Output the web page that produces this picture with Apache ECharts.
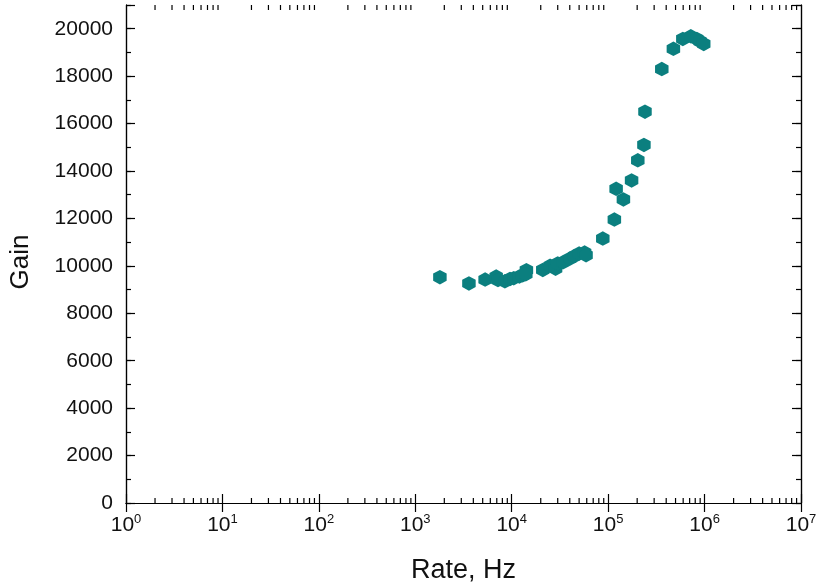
<!DOCTYPE html>
<html>
<head>
<meta charset="utf-8">
<script src="https://cdn.jsdelivr.net/npm/echarts@6/dist/echarts.min.js"></script>
<style>
  html, body { margin: 0; padding: 0; background: #fff; }
  #chart { width: 836px; height: 584px; }
</style>
</head>
<body>
<div id="chart"></div>
<script>
// ---- data ----
const rateHz = [
  1800, 3600, 5300, 6900, 7200, 8500, 9600, 10500, 12000, 13000,
  14200, 14000, 21000, 25000, 28500, 30000, 34000, 40000, 45000, 50000,
  57000, 59000, 88000, 116000, 121000, 144000, 175000, 203000, 235000, 241000,
  360000, 475000, 595000, 720000, 830000, 900000, 980000
];
const gain = [
  9520, 9260, 9420, 9550, 9400, 9350, 9450, 9480, 9550, 9600,
  9820, 9650, 9830, 10000, 9880, 10100, 10150, 10300, 10420, 10520,
  10560, 10450, 11150, 11950, 13250, 12800, 13600, 14450, 15100, 16500,
  18300, 19150, 19570, 19680, 19570, 19470, 19360
];
const xMin = 1, xMax = 1e7;
const yMin = 0, yMax = 21000;
const yLabelStep = 2000, yMinorStep = 1000;
const minorFactors = [2, 3, 4, 5, 6, 7, 8, 9];
const decades = [1, 10, 100, 1000, 10000, 100000, 1000000];

const points = rateHz.map((r, i) => [r, gain[i]]);
const minorTickData = [];
decades.forEach(d => minorFactors.forEach(f => minorTickData.push([d * f, yMin])));

const FONT = 'Liberation Sans, Arial, sans-serif';
const black = '#000';
const hexagon = 'path://M0,-1 L0.866,-0.5 L0.866,0.5 L0,1 L-0.866,0.5 L-0.866,-0.5 Z';

const chart = echarts.init(document.getElementById('chart'), null, { renderer: 'canvas' });

const baseX = {
  type: 'log', logBase: 10, min: xMin, max: xMax, interval: 1, splitNumber: 7,
  axisLine: { show: true, lineStyle: { color: black, width: 1.2 } },
  axisTick: { show: true, inside: true, length: 9, lineStyle: { color: black, width: 1.2 } },
  splitLine: { show: false }, minorTick: { show: false }, minorSplitLine: { show: false }
};
const baseY = {
  type: 'value', min: yMin, max: yMax,
  axisLine: { show: true, lineStyle: { color: black, width: 1.2 } },
  splitLine: { show: false }
};

chart.setOption({
  animation: false,
  backgroundColor: '#fff',
  grid: { left: 126, right: 35, top: 5, bottom: 81, containLabel: false, outerBoundsMode: 'none' },
  xAxis: [
    Object.assign({}, baseX, {
      position: 'bottom',
      name: 'Rate, Hz', nameLocation: 'middle', nameGap: 54,
      nameTextStyle: { fontFamily: FONT, fontSize: 27, color: '#111' },
      axisLabel: {
        show: true, margin: 10, color: '#111', fontFamily: FONT, fontSize: 21,
        formatter: v => '10{sup|' + Math.round(Math.log10(v)) + '}',
        rich: { sup: { fontFamily: FONT, fontSize: 13, color: '#111', padding: [0, 0, 11, 0] } }
      }
    }),
    Object.assign({}, baseX, { position: 'top', axisLabel: { show: false } })
  ],
  yAxis: [
    Object.assign({}, baseY, {
      position: 'left', interval: yMinorStep,
      name: 'Gain', nameLocation: 'middle', nameGap: 92,
      nameTextStyle: { fontFamily: FONT, fontSize: 26, color: '#111', padding: [0, 16, 0, 0] },
      axisTick: { show: true, inside: true, length: 5, lineStyle: { color: black, width: 1.2 } },
      axisLabel: {
        show: true, margin: 13, color: '#111', fontFamily: FONT, fontSize: 21,
        formatter: v => (v % yLabelStep === 0 && v <= 20000) ? String(v) : ''
      }
    }),
    Object.assign({}, baseY, {
      position: 'right', interval: yMinorStep,
      axisTick: { show: true, inside: true, length: 5, lineStyle: { color: black, width: 1.2 } },
      axisLabel: { show: false }
    }),
    Object.assign({}, baseY, {
      position: 'left', interval: yLabelStep,
      axisTick: { show: true, inside: true, length: 9, lineStyle: { color: black, width: 1.2 } },
      axisLabel: { show: false }
    }),
    Object.assign({}, baseY, {
      position: 'right', interval: yLabelStep,
      axisTick: { show: true, inside: true, length: 9, lineStyle: { color: black, width: 1.2 } },
      axisLabel: { show: false }
    })
  ],
  series: [
    {
      type: 'custom', xAxisIndex: 0, yAxisIndex: 0, silent: true, clip: false,
      data: minorTickData,
      renderItem: (params, api) => {
        const x = api.value(0);
        const b = api.coord([x, yMin]);
        const t = api.coord([x, yMax]);
        return {
          type: 'group',
          children: [
            { type: 'line', shape: { x1: b[0], y1: b[1], x2: b[0], y2: b[1] - 5 }, style: { stroke: black, lineWidth: 1.2 } },
            { type: 'line', shape: { x1: t[0], y1: t[1], x2: t[0], y2: t[1] + 5 }, style: { stroke: black, lineWidth: 1.2 } }
          ]
        };
      },
      z: 1
    },
    {
      type: 'scatter', xAxisIndex: 0, yAxisIndex: 0,
      data: points,
      symbol: hexagon, symbolSize: [13.5, 14.5],
      itemStyle: { color: '#0b7f7f', opacity: 1 },
      z: 3
    }
  ]
});
</script>
</body>
</html>
